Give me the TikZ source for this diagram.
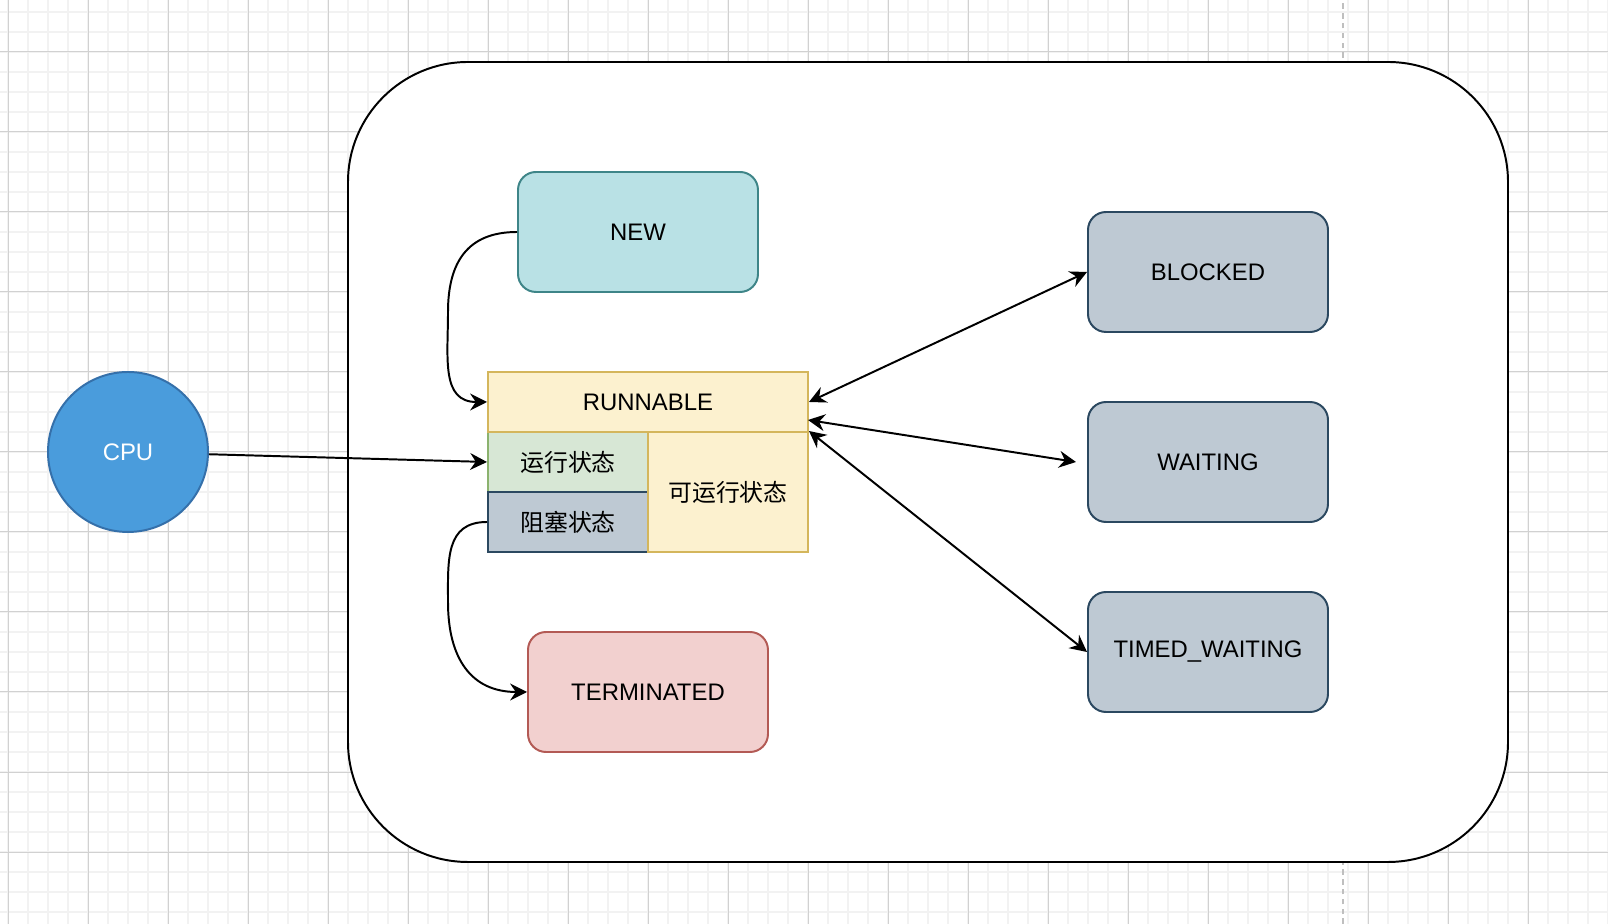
\documentclass[tikz,border=0pt]{standalone}
\usepackage{fontspec}
\setmainfont{Liberation Sans}
\newfontfamily\cjk{Noto Sans CJK SC}
\usetikzlibrary{arrows.meta}
\definecolor{newfill}{HTML}{B9E1E5}
\definecolor{newline}{HTML}{3E8588}
\definecolor{runfill}{HTML}{FCF1CF}
\definecolor{runline}{HTML}{D4B65C}
\definecolor{greenfill}{HTML}{D7E7D5}
\definecolor{greenline}{HTML}{8BB26E}
\definecolor{bluefill}{HTML}{BEC9D3}
\definecolor{blueline}{HTML}{2B4860}
\definecolor{redfill}{HTML}{F2D0CF}
\definecolor{redline}{HTML}{B35A55}
\definecolor{cpufill}{HTML}{4A9CDC}
\definecolor{cpuline}{HTML}{3570AA}

\begin{document}
\begin{tikzpicture}[x=0.5cm,y=0.5cm,
        every node/.style={font=\fontsize{17}{20}\selectfont},
        state/.style={rectangle,draw,line width=1.4pt,rounded corners=0.45cm,minimum width=6cm,minimum height=3cm},
        cell/.style={rectangle,draw,line width=1.4pt,minimum width=4cm,minimum height=1.5cm,inner sep=0pt},
        link/.style={line width=1.4pt,-{Stealth[length=12pt,width=12pt,inset=4pt]}},
        both/.style={line width=1.4pt,{Stealth[length=12pt,width=12pt,inset=4pt]}-{Stealth[length=12pt,width=12pt,inset=4pt]}}]
            \useasboundingbox (-0.4,-3.6) rectangle (80,42.6);
            \fill[white] (-0.4,-3.6) rectangle (80,42.6);
            \draw[step=1,black!5,line width=1.2pt] (-0.4,-3.6) grid (80,42.6);
            \draw[step=4,black!18,line width=0.7pt] (-0.4,-3.6) grid (80,42.6);
            \draw[black!25,line width=1.4pt,dash pattern=on 4pt off 3pt] (66.75,-3.6) -- (66.75,42.6);
            % container
            \draw[line width=1.4pt,fill=white,rounded corners=3cm] (17,-0.5) rectangle (75,39.5);
            \node[circle,draw=cpuline,fill=cpufill,line width=1.4pt,minimum size=4cm,text=white] (cpu) at (6,20) {CPU};
            \node[state,fill=newfill,draw=newline] (new) at (31.5,31) {NEW};
            \node[cell,fill=greenfill,draw=greenline] (running) at (28,19.5) {\cjk 运行状态};
            \node[cell,fill=bluefill,draw=blueline] (blocking) at (28,16.5) {\cjk 阻塞状态};
            \node[cell,fill=runfill,draw=runline,minimum height=3cm] (ready) at (36,18) {\cjk 可运行状态};
            \node[cell,fill=runfill,draw=runline,minimum width=8cm] (runnable) at (32,22.5) {RUNNABLE};
            \node[state,fill=redfill,draw=redline] (terminated) at (32,8) {TERMINATED};
            \node[state,fill=bluefill,draw=blueline] (blocked) at (60,29) {BLOCKED};
            \node[state,fill=bluefill,draw=blueline] (waiting) at (60,19.5) {WAITING};
            \node[state,fill=bluefill,draw=blueline] (timed) at (60,10) {TIMED\_WAITING};
            \coordinate (runlow) at (40,21.6);
            \coordinate (waitgap) at (53.4,19.5);
            \coordinate (newbend) at (22,27);
            \coordinate (endbend) at (22,12.5);
            % transitions
            \draw[link] (cpu) -- (running.west);
            \draw[link] (new.west) to[out=180,in=90,looseness=1.2] (newbend) to[out=270,in=180,looseness=1.2] (runnable.west);
            \draw[link] (blocking.west) to[out=180,in=90,looseness=1.2] (endbend) to[out=270,in=180,looseness=1.2] (terminated.west);
            \draw[both] (runnable.east) -- (blocked.west);
            \draw[both] (runlow) -- (waitgap);
            \draw[both] (ready.north east) -- (timed.west);
        \end{tikzpicture}
\end{document}
